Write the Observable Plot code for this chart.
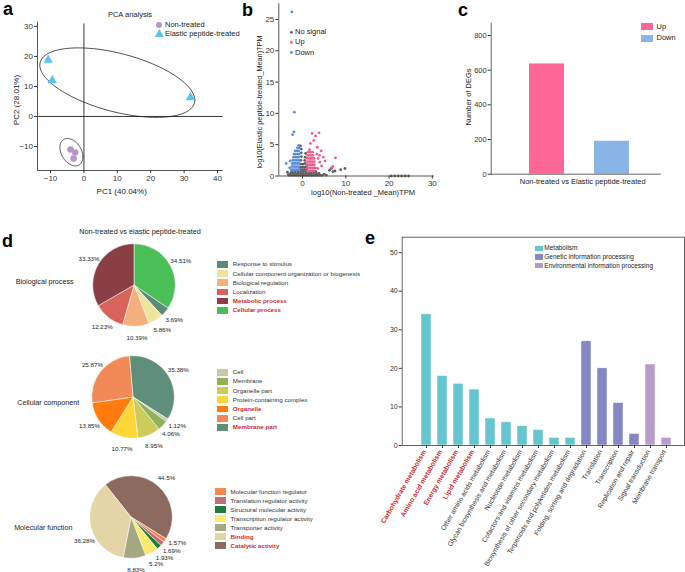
<!DOCTYPE html>
<html><head><meta charset="utf-8">
<script src="https://cdn.jsdelivr.net/npm/d3@7"></script>
<script src="https://cdn.jsdelivr.net/npm/@observablehq/plot@0.6"></script>
<style>
body{margin:0;background:#fff;}
#fig{position:relative;width:685px;height:572px;overflow:hidden;background:#fff;font-family:Arial,"Liberation Sans",Helvetica,sans-serif;color:#222;}
</style></head><body><div id="fig"></div>
<script>
// ---------------- Panel a: PCA ----------------
const pcaGroups = ["Non-treated", "Elastic peptide-treated"];
const nonTreatedPC1 = [-4.0, -2.6, -3.1];
const nonTreatedPC2 = [-11.0, -12.0, -14.0];
const treatedPC1 = [-10.7, -9.5, 31.9];
const treatedPC2 = [18.8, 12.0, 6.3];
const pcaTicksX = [-10, 0, 10, 20, 30, 40];
const pcaTicksY = [-10, 0, 10, 20, 30];
// confidence ellipses: centre and conjugate semi-diameters (PC units)
const ellipseCenter = [[-3.75, -11.9], [10.0, 11.27]];
const ellipseAxisA = [[3.45, -1.57], [23.2, -5.83]];
const ellipseAxisB = [[0, 4.29], [0, 10.0]];

// ---------------- Panel b: scatter ----------------
const volcanoClasses = ["No signal", "Up", "Down"];
const noSignalPts = [
[-3.0,0.1],[-2.5,0.1],[-2.0,0.1],[-1.5,0.1],[-1.0,0.1],[-0.5,0.1],[0.0,0.1],[0.5,0.1],[1.0,0.1],[1.5,0.1],[2.0,0.1],[2.5,0.1],[3.0,0.1],[3.5,0.1],[4.0,0.1],[4.5,0.1],
[-2.8,0.4],[-2.2,0.4],[-1.6,0.4],[-1.0,0.4],[-0.4,0.4],[0.2,0.4],[0.8,0.4],[1.4,0.4],[2.0,0.4],[2.6,0.4],[3.2,0.4],[3.8,0.4],
[-2.5,0.7],[-1.8,0.7],[-1.1,0.7],[-0.5,0.7],[0.1,0.7],[0.7,0.7],[1.3,0.7],[1.9,0.7],[2.5,0.7],[3.1,0.7],
[-0.6,1.0],[-0.1,1.0],[0.4,1.0],[0.9,1.0],[-0.5,1.4],[0.0,1.4],[0.5,1.4],[0.9,1.5],
[-0.4,1.9],[0.1,1.9],[0.6,2.0],[-0.4,2.5],[0.5,2.5],[-0.3,3.1],[0.6,3.0],[-0.3,3.7],[0.7,3.6],[-0.3,4.3],[-0.5,4.8],
[-3.5,0.6],[5.0,0.3],[5.5,0.15],[-3.3,0.2],
[6.2,0.9],[6.6,1.2],[7.0,0.7],[7.5,0.8],[8.8,1.0],[9.8,1.2],
[20.5,0],[21.3,0],[22.1,0],[22.9,0],[23.7,0],[24.5,0]];
const downPts = [
[-2.6,1.0],[-2.2,1.0],[-1.8,1.0],[-1.4,1.0],[-1.0,1.0],[-0.7,1.0],
[-2.5,1.5],[-2.1,1.5],[-1.7,1.5],[-1.3,1.5],[-0.9,1.5],
[-2.4,2.0],[-2.0,2.0],[-1.6,2.0],[-1.2,2.0],[-0.8,2.0],
[-2.3,2.5],[-1.9,2.5],[-1.5,2.5],[-1.1,2.5],[-0.8,2.5],
[-2.1,3.0],[-1.7,3.0],[-1.3,3.0],[-0.9,3.0],
[-2.0,3.5],[-1.6,3.5],[-1.2,3.5],[-0.8,3.5],
[-1.7,4.0],[-1.3,4.0],[-0.9,4.0],[-1.2,4.5],[-0.8,4.5],[-0.9,4.9],
[-2.5,26.2],[-1.9,10.2],[-2.0,7.05],[-2.3,6.6],[-3.8,2.0],[-3.0,1.3],[-2.9,2.4]];
const upPts = [
[1.1,0.8],[1.5,0.8],[1.9,0.8],[2.3,0.8],[2.7,0.8],
[1.1,1.3],[1.5,1.3],[1.9,1.3],[2.3,1.3],[2.7,1.3],[3.0,1.3],
[1.1,1.8],[1.5,1.8],[1.9,1.8],[2.3,1.8],[2.7,1.8],
[1.1,2.3],[1.5,2.3],[1.9,2.3],[2.3,2.3],[2.7,2.3],
[1.1,2.8],[1.5,2.8],[1.9,2.8],[2.3,2.8],[2.7,2.8],
[1.2,3.3],[1.6,3.3],[2.0,3.3],[2.4,3.3],[1.3,3.8],[1.8,3.8],[2.3,3.8],[1.6,4.2],
[3.3,3.5],[3.6,2.8],[4.0,2.2],[4.4,1.6],[3.5,1.2],[4.8,3.0],[2.2,6.8],[3.0,6.4],[2.6,5.7],[3.8,6.9],
[1.8,5.2],[3.4,4.6],[7.0,1.55],[7.6,2.9],[6.8,1.3],[5.2,2.4],[4.3,4.0],[3.9,3.3]];
const volcanoTicksX = [0, 10, 20, 30];
const volcanoTicksY = [0, 5, 10, 15, 20, 25];

// ---------------- Panel c: DEG counts ----------------
const degDirections = ["Up", "Down"];
const degCounts = [636, 190];
const degTicks = [0, 200, 400, 600, 800];

// ---------------- Panel d: GO pies ----------------
const bpNames = ["Cellular process","Response to stimulus","Cellular component organization or biogenesis","Biological regulation","Localization","Metabolic process"];
const bpPercent = [34.51, 3.69, 5.86, 10.39, 12.23, 33.33];
const bpColors = ["#4bbf57","#5a8b78","#efe49c","#f3b07c","#d8635a","#8a3f47"];
const bpLegend = ["Response to stimulus","Cellular component organization or biogenesis","Biological regulation","Localization","Metabolic process","Cellular process"];
const bpHighlight = ["Metabolic process","Cellular process"];

const ccNames = ["Membrane part","Cell","Membrane","Organelle part","Protein-containing complex","Organelle","Cell part"];
const ccPercent = [35.38, 1.12, 4.06, 8.95, 10.77, 13.85, 25.87];
const ccColors = ["#5f8f7b","#cbc8aa","#8fb15a","#cdcc5a","#fdd638","#ff7b0d","#f18a56"];
const ccLegend = ["Cell","Membrane","Organelle part","Protein-containing complex","Organelle","Cell part","Membrane part"];
const ccHighlight = ["Organelle","Membrane part"];

const mfNames = ["Catalytic activity","Molecular function regulator","Translation regulator activity","Structural molecular activity","Transcription regulator activity","Transporter activity","Binding"];
const mfPercent = [44.5, 1.57, 1.69, 1.93, 5.2, 8.83, 36.28];
const mfColors = ["#8c6a5f","#f5874a","#bf6f79","#1e7f38","#fdeb6f","#a4a983","#e4d5a6"];
const mfLegend = ["Molecular function regulator","Translation regulator activity","Structural molecular activity","Transcription regulator activity","Transporter activity","Binding","Catalytic activity"];
const mfHighlight = ["Binding","Catalytic activity"];

// ---------------- Panel e: KEGG ----------------
const keggPathways = ["Carbohydrate metabolism","Amino acid metabolism","Energy metabolism","Lipid metabolism","Other amino acids metabolism","Glycan biosynthesis and metabolism","Nucleotide metabolism","Cofactors and vitamins metabolism","Biosynthesis of other secondary metabolism","Terpenoids and polyketides metabolism","Folding, sorting and degradation","Translation","Transcription","Replication and repair","Signal transduction","Membrane transport"];
const keggCounts = [34, 18, 16, 14.5, 7, 6, 5, 4, 2, 2, 27, 20, 11, 3, 21, 2];
const keggClass = ["Metabolism","Metabolism","Metabolism","Metabolism","Metabolism","Metabolism","Metabolism","Metabolism","Metabolism","Metabolism","Genetic information processing","Genetic information processing","Genetic information processing","Genetic information processing","Environmental information processing","Environmental information processing"];
const keggClasses = ["Metabolism","Genetic information processing","Environmental information processing"];
const keggClassColors = ["#64c7d0","#8387c3","#b99cca"];
const keggHighlight = ["Carbohydrate metabolism","Amino acid metabolism","Energy metabolism","Lipid metabolism"];
const keggTicks = [0, 10, 20, 30, 40, 50];

// ================= rendering =================
const fig = document.getElementById("fig");
const FONT = 'Arial, "Liberation Sans", Helvetica, sans-serif';
const baseStyle = {background: "transparent", overflow: "visible", fontFamily: FONT, color: "#333"};
const RED = "#d0282e";

function put(node, left, top) {
  node.style.position = "absolute"; node.style.left = left + "px"; node.style.top = top + "px";
  fig.appendChild(node); return node;
}
function txt(s, x, y, o = {}) {
  const d = document.createElement("div");
  d.textContent = s;
  Object.assign(d.style, {position: "absolute", left: x + "px", top: y + "px", whiteSpace: "nowrap", lineHeight: "1",
    fontSize: (o.size || 7.5) + "px", fontWeight: o.weight || "normal", color: o.color || "#222"});
  const tx = o.anchor === "start" ? "0" : o.anchor === "end" ? "-100%" : "-50%";
  d.style.transform = `translate(${tx},-50%)` + (o.rotate ? ` rotate(${o.rotate}deg)` : "");
  fig.appendChild(d); return d;
}
function box(x, y, w, h, color) {
  const d = document.createElement("div");
  Object.assign(d.style, {position: "absolute", left: x + "px", top: y + "px", width: w + "px", height: h + "px", background: color});
  fig.appendChild(d); return d;
}
function symbolKey(shape, x, y, size, color) {
  const s = d3.create("svg").attr("width", size * 2 + 2).attr("height", size * 2 + 2)
    .style("position", "absolute").style("left", (x - size - 1) + "px").style("top", (y - size - 1) + "px").style("overflow", "visible");
  const sym = shape === "triangle" ? d3.symbolTriangle : d3.symbolCircle;
  s.append("path").attr("transform", `translate(${size + 1},${size + 1})`).attr("d", d3.symbol(sym, size * size * 3.2)()).attr("fill", color);
  fig.appendChild(s.node());
}

// panel letters
[["a", 3, 9.2], ["b", 242, 9.5], ["c", 458, 9.5], ["d", 2, 240.5], ["e", 365, 238]].forEach(([l, x, y]) =>
  txt(l, x, y, {size: 18, weight: "bold", anchor: "start", color: "#000"}));

// ---- a
const nonTreated = nonTreatedPC1.map((x, i) => ({x, y: nonTreatedPC2[i]}));
const treated = treatedPC1.map((x, i) => ({x, y: treatedPC2[i]}));
const ellipsePts = [];
ellipseCenter.forEach((c, k) => {
  for (let i = 0; i <= 120; i++) {
    const t = 2 * Math.PI * i / 120;
    ellipsePts.push({k, x: c[0] + ellipseAxisA[k][0] * Math.cos(t) + ellipseAxisB[k][0] * Math.sin(t),
                        y: c[1] + ellipseAxisA[k][1] * Math.cos(t) + ellipseAxisB[k][1] * Math.sin(t)});
  }
});
const plotA = Plot.plot({
  width: 235, height: 205, marginLeft: 37, marginRight: 12.3, marginTop: 21.7, marginBottom: 35,
  x: {domain: [-13.9, 41.7]}, y: {domain: [-18, 31.4]},
  style: baseStyle,
  marks: [
    Plot.ruleY([0], {stroke: "#222", strokeWidth: 0.9}),
    Plot.ruleX([0], {y1: -18, y2: 30.8, stroke: "#222", strokeWidth: 0.9}),
    Plot.ruleX([-13.9], {stroke: "#444", strokeWidth: 0.9}),
    Plot.ruleY([-18], {stroke: "#444", strokeWidth: 0.9}),
    Plot.line(ellipsePts, {x: "x", y: "y", z: "k", stroke: "#222", strokeWidth: 0.8}),
    Plot.dot(nonTreated, {x: "x", y: "y", r: 3.3, fill: "#b993c9", symbol: "circle"}),
    Plot.dot(treated, {x: "x", y: "y", r: 3.5, fill: "#55c5f0", symbol: "triangle"}),
    Plot.axisX({ticks: pcaTicksX, tickSize: 3, tickPadding: 1.5, fontSize: 8, label: null}),
    Plot.axisY({ticks: pcaTicksY, tickSize: 3, tickPadding: 1.5, fontSize: 8, label: null})
  ]
});
put(plotA, 0, 0);
txt("PCA analysis", 130, 14.5, {size: 7.5});
txt("PC1 (40.04%)", 121.7, 191.7, {size: 8});
txt("PC2 (28.01%)", 16.7, 100, {size: 8, rotate: -90});
symbolKey("circle", 159, 25, 3, "#b993c9");
symbolKey("triangle", 159, 34, 3.3, "#55c5f0");
txt(pcaGroups[0], 165, 25, {size: 7.5, anchor: "start"});
txt(pcaGroups[1], 165, 34, {size: 7.5, anchor: "start"});

// ---- b
const toObj = (arr, cls) => arr.map(([x, y]) => ({x, y, cls}));
const volcano = [...toObj(noSignalPts, "No signal"), ...toObj(downPts, "Down"), ...toObj(upPts, "Up")];
const volcanoColors = ["#5f5f5f", "#ee5d8f", "#5a8fdc"];
const plotB = Plot.plot({
  width: 205, height: 205, marginLeft: 38.3, marginRight: 11, marginTop: 3.3, marginBottom: 29.5,
  x: {domain: [-5.5, 30.5]}, y: {domain: [0, 27.5]},
  color: {domain: volcanoClasses, range: volcanoColors},
  style: baseStyle,
  marks: [
    Plot.dot(volcano, {x: "x", y: "y", fill: "cls", r: 1.4}),
    Plot.ruleX([-5.5], {stroke: "#444", strokeWidth: 0.9}),
    Plot.ruleY([0], {stroke: "#444", strokeWidth: 0.9}),
    Plot.axisX({ticks: volcanoTicksX, tickSize: 3, tickPadding: 1.5, fontSize: 8, label: null}),
    Plot.axisY({ticks: volcanoTicksY, tickSize: 3, tickPadding: 1.5, fontSize: 8, label: null})
  ]
});
put(plotB, 240, 0);
txt("log10(Non-treated _Mean)TPM", 363, 193, {size: 7.5});
txt("log10(Elastic peptide-treated_Mean)TPM", 259.5, 102, {size: 7.3, rotate: -90});
volcanoClasses.forEach((c, i) => {
  symbolKey("circle", 291, [32.3, 42.3, 52.7][i], 1.4, volcanoColors[i]);
  txt(c, 295, [32.3, 42.3, 52.7][i], {size: 7.5, anchor: "start"});
});

// ---- c
const degColors = ["#fd6797", "#88b4e6"];
const plotC = Plot.plot({
  width: 240, height: 205, marginLeft: 45.7, marginRight: 24.3, marginTop: 22.7, marginBottom: 31.3,
  x: {type: "band", domain: degDirections, paddingInner: 0.457, paddingOuter: 0.52, align: 0.55, axis: null},
  y: {domain: [0, 871]},
  color: {domain: degDirections, range: degColors},
  style: baseStyle,
  marks: [
    Plot.barY(degDirections, {x: d => d, y: (d, i) => degCounts[i], fill: d => d}),
    Plot.ruleY([0], {stroke: "#555", strokeWidth: 0.9}),
    Plot.frame({anchor: "left", stroke: "#555", strokeWidth: 0.9}),
    Plot.axisY({ticks: degTicks, tickSize: 3, tickPadding: 1.5, fontSize: 7.5, label: null})
  ]
});
put(plotC, 445, 0);
txt("Non-treated vs Elastic peptide-treated", 582.7, 181.7, {size: 7.5});
txt("Number of DEGs", 469, 96.7, {size: 7.5, rotate: -90});
degDirections.forEach((d, i) => {
  box(641, [23.3, 34.5][i], 11.7, 7, degColors[i]);
  txt(d, 656.5, [26.8, 38][i], {size: 7.5, anchor: "start"});
});

// ---- d
// spread label angles so labels neither collide with each other nor with the side title
function relaxAngles(angles, obstacles, minSep, obstacleSep) {
  const a = angles.slice();
  const norm = d => Math.atan2(Math.sin(d), Math.cos(d));
  for (let it = 0; it < 300; it++) {
    let moved = false;
    for (let i = 0; i < a.length; i++) for (let j = i + 1; j < a.length; j++) {
      const d = norm(a[j] - a[i]);
      if (Math.abs(d) < minSep - 1e-6) {
        const p = (minSep - Math.abs(d)) / 2 * (d >= 0 ? 1 : -1);
        a[i] -= p; a[j] += p; moved = true;
      }
    }
    for (let i = 0; i < a.length; i++) for (const f of obstacles) {
      const d = norm(a[i] - f);
      if (Math.abs(d) < obstacleSep - 1e-6) { a[i] += (obstacleSep - Math.abs(d)) * (d >= 0 ? 1 : -1); moved = true; }
    }
    if (!moved) break;
  }
  return a;
}
function piePlot(values, colors, startDeg, cx, cy, titleX, titleY) {
  const R = 41.3, S = 140, k = (S / 2) / R, LR = 1.27;
  const a0 = startDeg * Math.PI / 180;
  const arcs = d3.pie().sort(null).value(d => d).startAngle(a0).endAngle(a0 + 2 * Math.PI)(values);
  const mids = arcs.map(a => (a.startAngle + a.endAngle) / 2);
  const titleAngle = Math.atan2(titleX - cx, -(titleY - cy));
  const angs = relaxAngles(mids, [titleAngle], 11 * Math.PI / 180, 15 * Math.PI / 180);
  const labels = angs.map((ang, i) => ({t: values[i] + "%", ang}));
  const chart = Plot.plot({
    width: S, height: S, margin: 0,
    x: {domain: [-k, k], axis: null}, y: {domain: [-k, k], axis: null},
    style: baseStyle,
    marks: [
      (index, scales) => {
        const r = scales.x(1) - scales.x(0);
        const g = d3.create("svg:g").attr("transform", `translate(${scales.x(0)},${scales.y(0)})`);
        const arc = d3.arc().innerRadius(0).outerRadius(r);
        g.selectAll("path").data(arcs).join("path").attr("d", arc)
          .attr("fill", (d, i) => colors[i]).attr("stroke", "#fff").attr("stroke-width", 0.5);
        return g.node();
      },
      Plot.text(labels, {x: d => LR * Math.sin(d.ang), y: d => LR * Math.cos(d.ang), text: "t", fontSize: 6.2, fill: "#222"})
    ]
  });
  put(chart, cx - S / 2, cy - S / 2);
}
const pieTitles = [["Biological process", 44.7, 282.3], ["Cellular component", 48.3, 403.3], ["Molecular function", 43.3, 528.3]];
piePlot(bpPercent, bpColors, 0, 133.7, 284.5, 73, 282.3);
piePlot(ccPercent, ccColors, -5, 133.3, 397.3, 78, 403.3);
piePlot(mfPercent, mfColors, -38.4, 131.2, 516.5, 72, 528.3);
txt("Non-treated vs elastic peptide-treated", 140, 232, {size: 7.3});
pieTitles.forEach(([t, x, y]) => txt(t, x, y, {size: 7.2}));
function goLegend(names, allNames, allColors, highlight, x, y0, step) {
  names.forEach((n, i) => {
    const c = allColors[allNames.indexOf(n)];
    const y = y0 + i * step;
    box(x, y - 3.4, 11, 6.8, c);
    const hl = highlight.includes(n);
    txt(n, x + 15.5, y, {size: 6.2, anchor: "start", color: hl ? RED : "#333", weight: hl ? "bold" : "normal"});
  });
}
goLegend(bpLegend, bpNames, bpColors, bpHighlight, 217.3, 264.3, 9.2);
goLegend(ccLegend, ccNames, ccColors, ccHighlight, 217.3, 372.3, 9.17);
goLegend(mfLegend, mfNames, mfColors, mfHighlight, 215, 491.7, 9.0);

// ---- e
const keggRows = keggPathways.map((p, i) => ({p, v: keggCounts[i], c: keggClass[i]}));
const plotE = Plot.plot({
  width: 310, height: 342, marginLeft: 26.7, marginRight: 1, marginTop: 6.7, marginBottom: 127,
  x: {type: "band", domain: keggPathways, paddingInner: 0.404, paddingOuter: 0.614, align: 0.6},
  y: {domain: [0, 54]},
  color: {domain: keggClasses, range: keggClassColors},
  style: baseStyle,
  marks: [
    Plot.barY(keggRows, {x: "p", y: "v", fill: "c", stroke: "#fff", strokeWidth: 0.5}),
    Plot.frame({stroke: "#555", strokeWidth: 0.9}),
    Plot.axisY({ticks: keggTicks, tickSize: 3, tickPadding: 1.5, fontSize: 7, label: null}),
    Plot.axisX({tickSize: 3, tickFormat: () => "", label: null}),
    Plot.text(keggPathways.filter(p => keggHighlight.includes(p)), {x: d => d, frameAnchor: "bottom", dy: 6, rotate: -60, textAnchor: "end", fill: RED, fontWeight: "bold", fontSize: 6.8}),
    Plot.text(keggPathways.filter(p => !keggHighlight.includes(p)), {x: d => d, frameAnchor: "bottom", dy: 6, rotate: -60, textAnchor: "end", fill: "#333", fontSize: 6.8})
  ]
});
put(plotE, 375, 230);
keggClasses.forEach((c, i) => {
  const y = [248.3, 257, 265.7][i];
  box(535, y - 2.8, 7.7, 5.6, keggClassColors[i]);
  txt(c, 544.3, y, {size: 6.5, anchor: "start"});
});
</script></body></html>
